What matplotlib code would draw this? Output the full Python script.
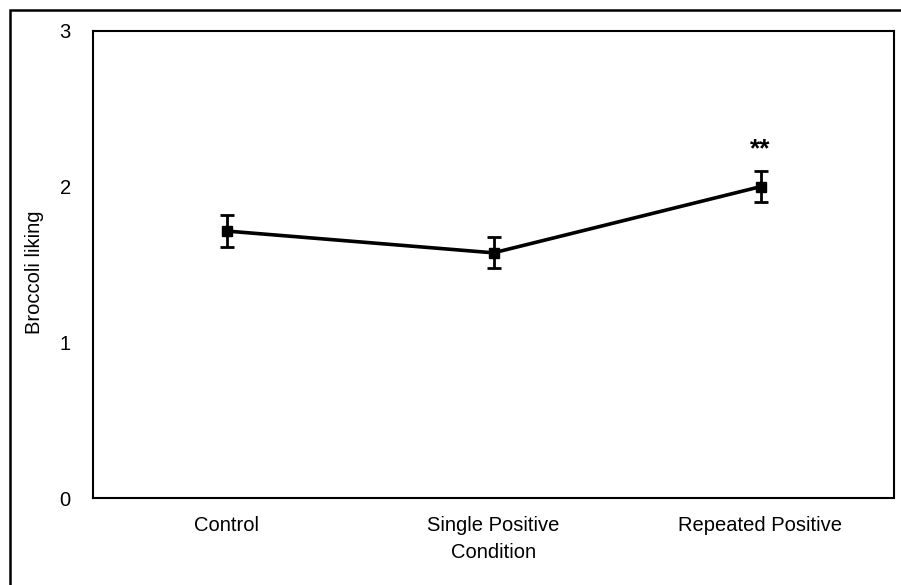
import numpy as np
import matplotlib.pyplot as plt
from matplotlib.patches import Rectangle

plt.rcParams['font.family'] = ['Liberation Sans', 'DejaVu Sans']

# data
conditions = ['Control', 'Single Positive', 'Repeated Positive']
liking = [1.715, 1.575, 2.0]
liking_err = [0.10, 0.10, 0.10]
signif = ['', '', '**']

fig = plt.figure(figsize=(9.01, 5.85), dpi=100)
ax = fig.add_axes([93/901, 87/585, 801/901, 467/585])

x = np.arange(len(conditions))
ax.errorbar(x, liking, yerr=liking_err, color='black', lw=2.6, marker='s',
            markersize=7.5, capsize=5, elinewidth=2, capthick=2)

# significance stars above the error bars
for i in range(len(conditions)):
    if signif[i]:
        ax.text(x[i], liking[i] + liking_err[i] + 0.06, signif[i], ha='center',
                va='bottom', fontsize=19, fontweight='bold')

ax.set_xlim(-0.5, 2.5)
ax.set_ylim(0, 3)
ax.set_yticks([0, 1, 2, 3])
ax.set_xticks(x)
ax.set_xticklabels(conditions)
ax.tick_params(length=0, labelsize=14.5, pad=13)
ax.tick_params(axis='y', pad=16)
for s in ax.spines.values():
    s.set_linewidth(1.5)

ax.set_xlabel('Condition', fontsize=14.5, labelpad=6)
ax.set_ylabel('Broccoli liking', fontsize=14.5)
ax.yaxis.set_label_coords(-0.061, 0.484)

# outer frame, cut off on the right and bottom
fig.patches.append(Rectangle((10/901, -0.1), 1.2, 1.1 - 10/585,
                             transform=fig.transFigure, fill=False,
                             edgecolor='black', lw=1.8))

fig.savefig('out.png', dpi=100)
